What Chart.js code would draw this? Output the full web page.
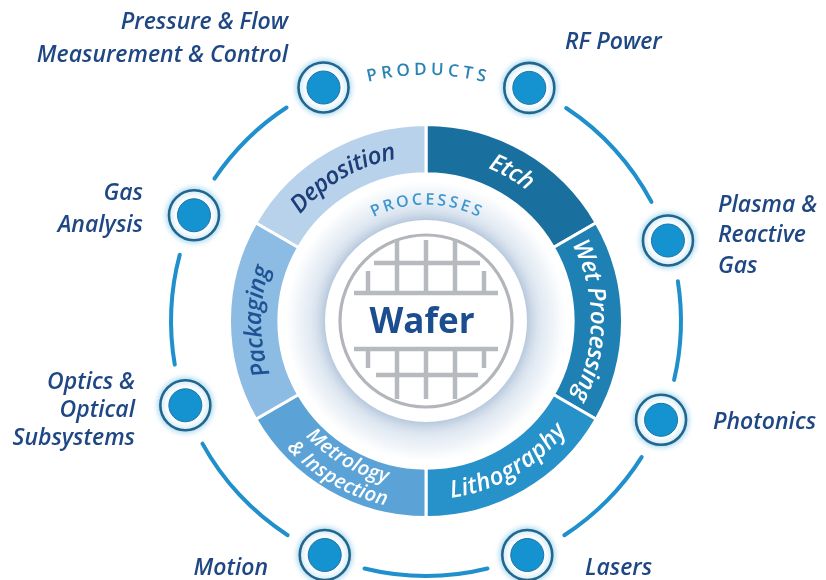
<!DOCTYPE html>
<html>
<head>
<meta charset="utf-8">
<script src="https://cdn.jsdelivr.net/npm/chart.js@4.4.1/dist/chart.umd.min.js"></script>
<style>
  html, body { margin: 0; padding: 0; background: #ffffff; }
  #wrap { width: 826px; height: 580px; position: relative; }
</style>
</head>
<body>
<div id="wrap"><canvas id="c" width="826" height="580"></canvas></div>
<script>
// ---------------- DATA ----------------
const processes = ['Etch', 'Wet Processing', 'Lithography', 'Metrology\n& Inspection', 'Packaging', 'Deposition'];
const processShare = [1, 1, 1, 1, 1, 1];
const products = ['Pressure & Flow\nMeasurement & Control', 'RF Power', 'Plasma &\nReactive\nGas', 'Photonics',
                  'Lasers', 'Motion', 'Optics &\nOptical\nSubsystems', 'Gas\nAnalysis'];
const productAngles = [-23.7, 23.9, 71.6, 112.8, 156.6, 203.4, 250.7, 294.5]; // degrees clockwise from 12 o'clock
const ringTitle = 'PRODUCTS';
const innerTitle = 'PROCESSES';
const centerTitle = 'Wafer';

// ---------------- LAYOUT / STYLE ----------------
const CX = 426, CY = 321;
const R_OUT = 257, CUT = 148;
const BORDER = 3;
const nodeGapHalf = 9; // degrees of gap around each product node
const processColors = ['#19709f', '#1e80b3', '#2791c9', '#5ba3d6', '#8cbbe3', '#b8d2eb'];
const processText = ['#ffffff', '#ffffff', '#ffffff', '#ffffff', '#1f5293', '#1d3d78'];
const labelFont = 'italic 600 23px "Open Sans"';
const labelLayout = [
  { x: 288, y: 22, align: 'right', lh: 33 },
  { x: 565, y: 42, align: 'left', lh: 30 },
  { x: 718, y: 205, align: 'left', lh: 30.5 },
  { x: 713, y: 422, align: 'left', lh: 30 },
  { x: 585, y: 568, align: 'left', lh: 30 },
  { x: 268, y: 568, align: 'right', lh: 30 },
  { x: 135, y: 382, align: 'right', lh: 28 },
  { x: 143, y: 193, align: 'right', lh: 32 }
];

// ring segments built from node angles: [gap around node i, arc to node i+1]
const ringSpans = [], ringColors = [];
for (let i = 0; i < productAngles.length; i++) {
  const a = productAngles[i];
  const b = i + 1 < productAngles.length ? productAngles[i + 1] : productAngles[0] + 360;
  ringSpans.push(2 * nodeGapHalf); ringColors.push('rgba(0,0,0,0)');
  ringSpans.push(b - a - 2 * nodeGapHalf);
  ringColors.push(i === 0 ? 'rgba(0,0,0,0)' : '#1f90cc'); // blank where PRODUCTS sits
}

const side = 2 * R_OUT + BORDER;
const pad = {
  left: CX - side / 2, right: 826 - (CX + side / 2),
  top: CY - side / 2, bottom: 580 - (CY + side / 2)
};

function arcText(ctx, text, cx, cy, r, mid, outward, spacing) {
  const chars = [...text];
  const widths = chars.map(ch => ctx.measureText(ch).width);
  const total = widths.reduce((s, w) => s + w, 0) + spacing * (chars.length - 1);
  const dir = outward ? 1 : -1;
  let a = mid - dir * total / (2 * r);
  ctx.textAlign = 'center';
  ctx.textBaseline = 'middle';
  chars.forEach((ch, i) => {
    const w = widths[i];
    const ac = a + dir * (w / 2) / r;
    ctx.save();
    ctx.translate(cx + r * Math.cos(ac), cy + r * Math.sin(ac));
    ctx.rotate(ac + dir * Math.PI / 2);
    ctx.fillText(ch, 0, 0);
    ctx.restore();
    a += dir * (w + spacing) / r;
  });
}

const decor = {
  id: 'decor',
  beforeDatasetsDraw(chart) {
    const ctx = chart.ctx;
    const m = chart.getDatasetMeta(2).data[0];
    const x = m.x, y = m.y;
    ctx.save();
    const g = ctx.createRadialGradient(x, y, 98, x, y, 140);
    g.addColorStop(0, 'rgba(200,214,230,1)');
    g.addColorStop(0.35, 'rgba(222,231,241,1)');
    g.addColorStop(1, 'rgba(255,255,255,1)');
    ctx.fillStyle = g;
    ctx.beginPath(); ctx.arc(x, y, 146, 0, Math.PI * 2); ctx.fill();
    ctx.shadowColor = 'rgba(120,150,185,0.5)';
    ctx.shadowBlur = 14;
    ctx.fillStyle = '#ffffff';
    ctx.beginPath(); ctx.arc(x, y, 101, 0, Math.PI * 2); ctx.fill();
    ctx.restore();
  },
  afterDatasetsDraw(chart) {
    const ctx = chart.ctx;
    const ring = chart.getDatasetMeta(0).data;
    const proc = chart.getDatasetMeta(2).data;
    const x0 = proc[0].x, y0 = proc[0].y;

    // product nodes at centre of gap arcs
    for (let i = 0; i < ring.length; i += 2) {
      const el = ring[i];
      const a = (el.startAngle + el.endAngle) / 2;
      const r = (el.innerRadius + el.outerRadius) / 2;
      const nx = el.x + r * Math.cos(a), ny = el.y + r * Math.sin(a);
      ctx.save();
      ctx.shadowColor = 'rgba(40,160,220,0.55)';
      ctx.shadowBlur = 6;
      ctx.fillStyle = '#ffffff';
      ctx.strokeStyle = '#23668c';
      ctx.lineWidth = 2.6;
      ctx.beginPath(); ctx.arc(nx, ny, 25, 0, Math.PI * 2); ctx.fill(); ctx.stroke();
      ctx.restore();
      ctx.save();
      ctx.fillStyle = '#1592d0';
      ctx.strokeStyle = '#1b75a8';
      ctx.lineWidth = 1;
      ctx.beginPath(); ctx.arc(nx, ny, 16.5, 0, Math.PI * 2); ctx.fill(); ctx.stroke();
      ctx.restore();
    }

    // PRODUCTS on the blank arc
    {
      const el = ring[1];
      const a = (el.startAngle + el.endAngle) / 2;
      ctx.save();
      ctx.fillStyle = '#2a82b5';
      ctx.font = '600 17px "Open Sans"';
      arcText(ctx, ringTitle, el.x, el.y, 251, a, true, 4.4);
      ctx.restore();
    }

    // process labels on the ring
    proc.forEach((el, i) => {
      const a = (el.startAngle + el.endAngle) / 2;
      const rm = (el.innerRadius + el.outerRadius) / 2;
      const norm = ((a % (2 * Math.PI)) + 2 * Math.PI) % (2 * Math.PI);
      const bottom = norm > 0.2 && norm < Math.PI - 0.2; // lower half reads counter-clockwise
      ctx.save();
      ctx.fillStyle = processText[i];
      const lines = processes[i].split('\n');
      if (lines.length === 1) {
        ctx.font = 'italic 600 24px "Open Sans"';
        arcText(ctx, lines[0], el.x, el.y, rm, a, !bottom, 0);
      } else {
        ctx.font = 'italic 600 20px "Open Sans"';
        arcText(ctx, lines[0], el.x, el.y, rm - 11, a, !bottom, 0);
        arcText(ctx, lines[1], el.x, el.y, rm + 11, a, !bottom, 0);
      }
      ctx.restore();
    });

    // PROCESSES title
    ctx.save();
    ctx.fillStyle = '#3d98d0';
    ctx.font = '600 16px "Open Sans"';
    arcText(ctx, innerTitle, x0, y0, 121, -Math.PI / 2, true, 3.2);
    ctx.restore();

    // wafer
    ctx.save();
    ctx.strokeStyle = '#b2b5b9';
    ctx.lineWidth = 3.2;
    ctx.beginPath(); ctx.arc(x0, y0, 86, 0, Math.PI * 2); ctx.stroke();
    ctx.strokeStyle = '#b6b9bd';
    ctx.lineWidth = 4.5;
    ctx.lineCap = 'butt';
    const seg = (ax, ay, bx, by) => { ctx.beginPath(); ctx.moveTo(x0 + ax, y0 + ay); ctx.lineTo(x0 + bx, y0 + by); ctx.stroke(); };
    // upper grid
    seg(-72, -28, 72, -28);
    seg(-52, -58, 54, -58);
    [-29, 0, 29].forEach(dx => seg(dx, -81, dx, -28));
    [-58, 58].forEach(dx => seg(dx, -50, dx, -28));
    // lower grid
    seg(-72, 28, 72, 28);
    seg(-50, 54, 52, 54);
    [-29, 0, 29].forEach(dx => seg(dx, 28, dx, 78));
    [-58, 58].forEach(dx => seg(dx, 28, dx, 47));
    ctx.restore();

    ctx.save();
    ctx.fillStyle = '#1b4d8f';
    ctx.font = 'bold 35px "Open Sans"';
    ctx.textAlign = 'center';
    ctx.textBaseline = 'middle';
    ctx.fillText(centerTitle, x0 - 4, y0 + 2);
    ctx.restore();

    // product labels
    ctx.save();
    ctx.fillStyle = '#1e4784';
    ctx.font = labelFont;
    ctx.textBaseline = 'middle';
    products.forEach((p, i) => {
      const L = labelLayout[i];
      ctx.textAlign = L.align;
      p.split('\n').forEach((line, k) => ctx.fillText(line, L.x, L.y + k * L.lh));
    });
    ctx.restore();
  }
};

new Chart(document.getElementById('c'), {
  type: 'doughnut',
  data: {
    labels: processes,
    datasets: [
      { label: 'Products ring', data: ringSpans, backgroundColor: ringColors, borderWidth: 0,
        borderRadius: 2, weight: 4, rotation: productAngles[0] - nodeGapHalf },
      { label: 'spacer', data: [1], backgroundColor: 'rgba(0,0,0,0)', borderWidth: 0, weight: R_OUT - 4 - 197 },
      { label: 'Processes', data: processShare, backgroundColor: processColors, borderColor: '#ffffff',
        borderWidth: BORDER, weight: 197 - CUT, rotation: 0 }
    ]
  },
  options: {
    responsive: false,
    animation: false,
    devicePixelRatio: 1,
    cutout: CUT,
    radius: R_OUT,
    layout: { padding: pad },
    events: [],
    plugins: { legend: { display: false }, tooltip: { enabled: false } }
  },
  plugins: [decor]
});
</script>
</body>
</html>
